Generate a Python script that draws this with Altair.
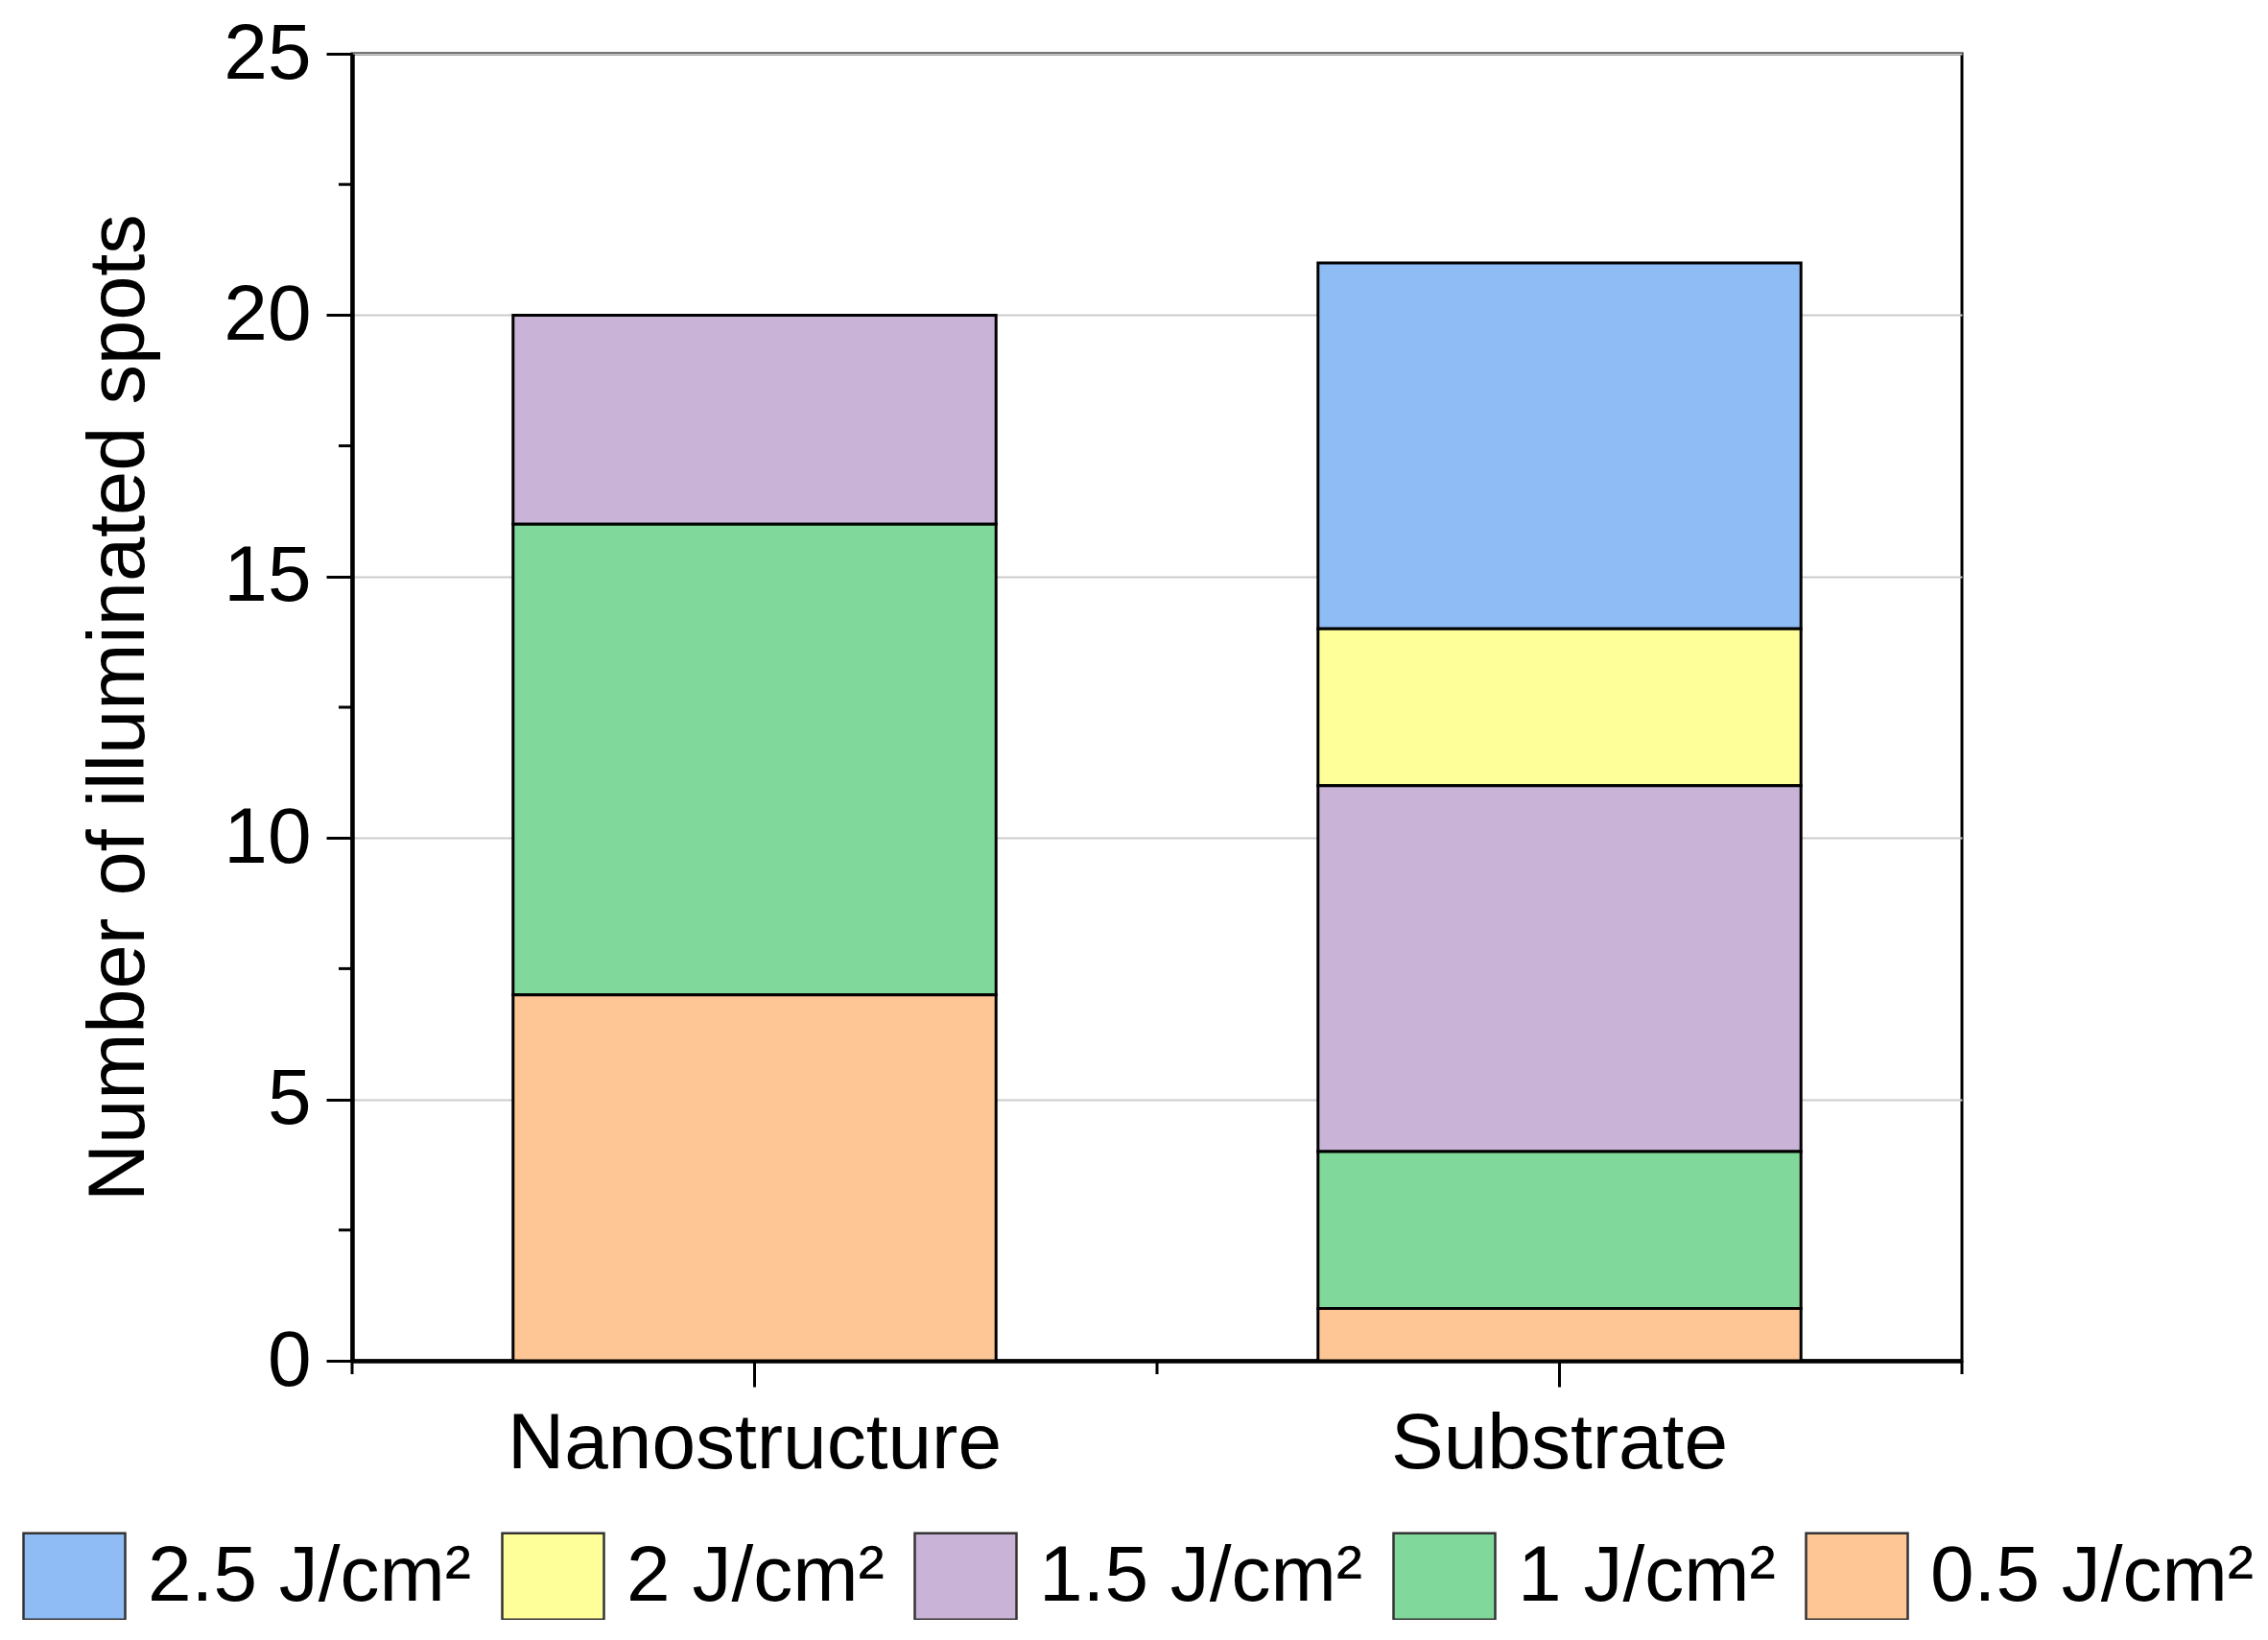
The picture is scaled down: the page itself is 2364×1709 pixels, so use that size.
import altair as alt
import pandas as pd

# ---- data ----
categories = ["Nanostructure", "Substrate"]
fluence_labels = ["2.5 J/cm²", "2 J/cm²", "1.5 J/cm²", "1 J/cm²", "0.5 J/cm²"]
fluence_values = [2.5, 2.0, 1.5, 1.0, 0.5]
nanostructure_counts = [0, 0, 4, 9, 7]
substrate_counts = [7, 3, 7, 3, 1]
colors = ["#8FBCF5", "#FFFF99", "#C9B3D6", "#80D89B", "#FDC694"]

y_major = [0, 5, 10, 15, 20, 25]
y_minor = [2.5, 7.5, 12.5, 17.5, 22.5]

rows = []
for cat, counts in zip(categories, [nanostructure_counts, substrate_counts]):
    for lab, val, c in zip(fluence_labels, fluence_values, counts):
        rows.append({"category": cat, "fluence": lab, "fval": val, "count": c})
df = pd.DataFrame(rows)

W, H = 1678, 1362
STEP = W / len(categories)
FONT = "Liberation Sans"
FS = 82
YTITLE = "Number of illuminated spots"

x_scale = alt.Scale(domain=categories, paddingInner=0.4, paddingOuter=0.2)
y_scale = alt.Scale(domain=[0, 25], nice=False)

bars = alt.Chart(df).transform_filter("datum.count > 0").mark_bar(
    stroke="black", strokeWidth=3
).encode(
    x=alt.X("category:N", scale=x_scale, sort=categories, title=None,
            axis=alt.Axis(labelAngle=0, tickSize=27,
                          tickWidth=3, tickColor="black", domainWidth=4.5,
                          domainColor="black", labelPadding=19, labelFontSize=FS,
                          labelFont=FONT, labelColor="black", labelLimit=1000,
                          grid=False)),
    y=alt.Y("count:Q", stack="zero", scale=y_scale, title=YTITLE,
            axis=alt.Axis(values=y_major,
                          tickSize=27, tickWidth=3, tickColor="black",
                          domainWidth=4.5, domainColor="black",
                          labelPadding=16, labelFontSize=FS, labelFont=FONT,
                          labelColor="black", titleFontSize=83, titleFont=FONT,
                          titleFontWeight="normal", titleColor="black",
                          titlePadding=66, titleLimit=3000,
                          grid=True, gridColor="#CBCBCB", gridWidth=2)),
    color=alt.Color("fluence:N",
                    scale=alt.Scale(domain=fluence_labels, range=colors),
                    legend=alt.Legend(title=None, orient="none", direction="horizontal",
                                      columns=5, legendX=-344, legendY=1532,
                                      labelFontSize=FS, labelFont=FONT,
                                      labelColor="black", labelLimit=1000,
                                      labelOffset=22, columnPadding=26,
                                      symbolType="M-1,-0.85H1V0.85H-1Z",
                                      symbolSize=11236, symbolStrokeColor="#333333",
                                      symbolStrokeWidth=2.5, symbolOpacity=1,
                                      padding=0)),
    order=alt.Order("fval:Q", sort="ascending"),
)

minor_y = alt.Chart(pd.DataFrame({"v": y_minor})).mark_rule(
    color="black", strokeWidth=3
).encode(
    y=alt.Y("v:Q", scale=y_scale, title=YTITLE),
    x=alt.value(-14),
    x2=alt.value(0),
)

# minor x ticks at band boundaries (left edge of every band, right edge of the last)
minor_x_left = alt.Chart(pd.DataFrame({"category": categories})).mark_rule(
    color="black", strokeWidth=3, xOffset=-STEP / 2
).encode(
    x=alt.X("category:N", scale=x_scale, sort=categories, title=None),
    y=alt.value(H),
    y2=alt.value(H + 14),
)
minor_x_right = alt.Chart(pd.DataFrame({"category": categories[-1:]})).mark_rule(
    color="black", strokeWidth=3, xOffset=STEP / 2
).encode(
    x=alt.X("category:N", scale=x_scale, sort=categories, title=None),
    y=alt.value(H),
    y2=alt.value(H + 14),
)

chart = alt.layer(bars, minor_y, minor_x_left, minor_x_right).properties(
    width=W, height=H,
    autosize=alt.AutoSizeParams(type="none"),
    padding={"left": 359, "top": 48, "right": 310, "bottom": 270},
).configure(
    font=FONT, background="white"
).configure_view(
    stroke="black", strokeWidth=3
)

chart.save("out.html", embed_options={"renderer": "svg", "actions": False})
